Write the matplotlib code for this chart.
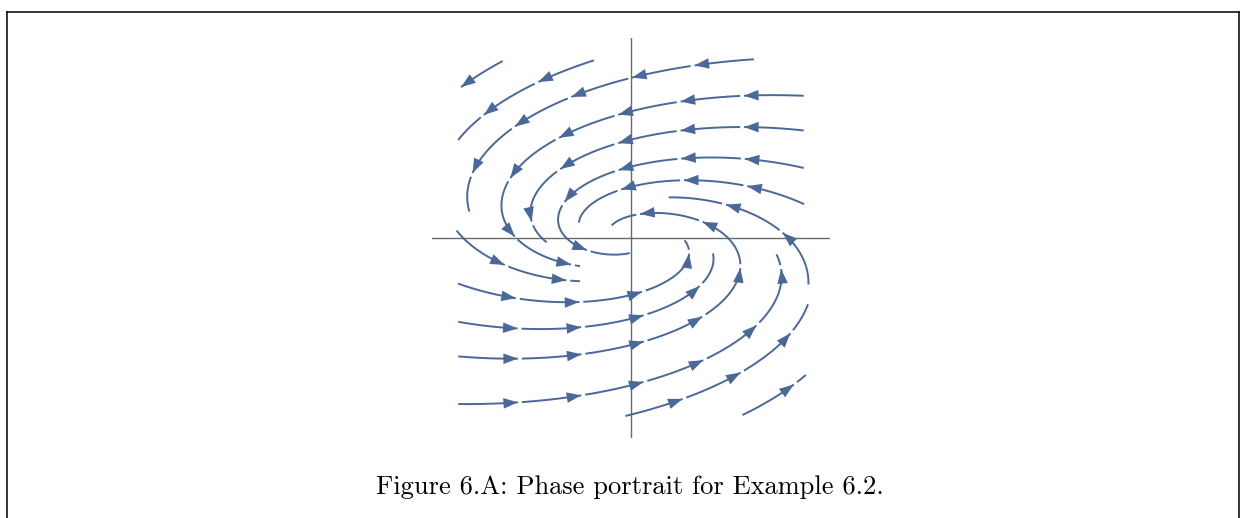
import numpy as np
import matplotlib
matplotlib.use('Agg')
import matplotlib.pyplot as plt
from matplotlib.lines import Line2D
from matplotlib.patches import FancyArrowPatch

# linear system  x' = -x - 4y,  y' = x - y
A = [[-1.0, -4.0],
     [1.0, -1.0]]

# streamline seeds (upstream end) and arc length in axes units
seed_x = [-1.25, -0.33, 1.28, 1.78, 1.78, 1.78, 1.78, 1.78,
          -1.78, 1.08, -0.10, -1.78, -1.78, -1.78, -1.78]
seed_y = [1.79, 1.79, 1.79, 1.42, 1.07, 0.69, 0.32, -0.51,
          -1.18, -1.79, -1.79, -1.66, -0.83, -0.44, 0.11]
lengths = [0.15, 0.42, 0.91, 1.15, 0.87, 0.92, 0.63, 0.47,
           1.20, 0.21, 0.57, 1.00, 0.74, 0.68, 0.36]

caption = 'Figure 6.A: Phase portrait for Example 6.2.'
line_col = '#4a6899'

fig = plt.figure(figsize=(12.44, 5.18), dpi=100)

# page frame (open at the bottom)
W, H = 1244, 518
for xs, ys in [([7.5, 7.5], [0, H - 11.5]), ([7.5, 1238.5], [H - 11.5, H - 11.5]),
               ([1238.5, 1238.5], [H - 11.5, 0])]:
    fig.add_artist(Line2D([x / W for x in xs], [y / H for y in ys],
                          color='black', lw=1.1))

ax = fig.add_axes([432 / W, 80 / H, 398 / W, 400 / H])
ax.set_xlim(-2, 2)
ax.set_ylim(-2, 2)
ax.axis('off')
ax.axhline(0, color='#6a6a6a', lw=1.0, zorder=1)
ax.axvline(0, color='#6a6a6a', lw=1.0, zorder=1)

g = np.linspace(-2, 2, 201)
X, Y = np.meshgrid(g, g)
U = A[0][0] * X + A[0][1] * Y
V = A[1][0] * X + A[1][1] * Y

paths = []
for sx, sy, L in zip(seed_x, seed_y, lengths):
    sp = ax.streamplot(X, Y, U, V, start_points=[[sx, sy]],
                       integration_direction='forward', maxlength=L,
                       minlength=0.01, broken_streamlines=False, density=3,
                       color=line_col, linewidth=1.3, arrowsize=0.01)
    segs = sp.lines.get_segments()
    sp.lines.remove()
    if len(segs):
        pts = np.vstack(segs)
        keep = np.r_[True, np.hypot(*np.diff(pts, axis=0).T) > 1e-9]
        paths.append(pts[keep])

for p in list(ax.patches):
    p.remove()

# redraw each streamline as dashes broken just past every arrow tip
px = 100.0          # pixels per data unit
first, step, gap = 60.0, 64.0, 4.0
head = '-|>,head_length=0.55,head_width=0.2'
for pts in paths:
    s = np.r_[0, np.cumsum(np.hypot(*np.diff(pts, axis=0).T))] * px
    total = s[-1]

    def at(t):
        return np.array([np.interp(t, s, pts[:, 0]), np.interp(t, s, pts[:, 1])])

    tips = []
    t = min(first, total - 4)
    while t <= total - 4:
        tips.append(t)
        t += step

    cuts = [0.0]
    for t in tips:
        cuts += [t, min(t + gap, total)]
    cuts.append(total)
    for a, b in zip(cuts[0::2], cuts[1::2]):
        if b - a < 0.5:
            continue
        inner = (s > a) & (s < b)
        seg = np.vstack([at(a), pts[inner], at(b)])
        ax.plot(seg[:, 0], seg[:, 1], color=line_col, lw=1.4,
                solid_capstyle='butt', zorder=2)
    for t in tips:
        ax.add_patch(FancyArrowPatch(at(t - 4), at(t), arrowstyle=head,
                                     mutation_scale=19, shrinkA=0, shrinkB=0,
                                     color=line_col, lw=0, zorder=3))

fig.text(629.5 / W, 1 - 487 / H, caption, family='cmr10', fontsize=19.1,
         ha='center', va='center')

fig.savefig('out.png', dpi=100)
